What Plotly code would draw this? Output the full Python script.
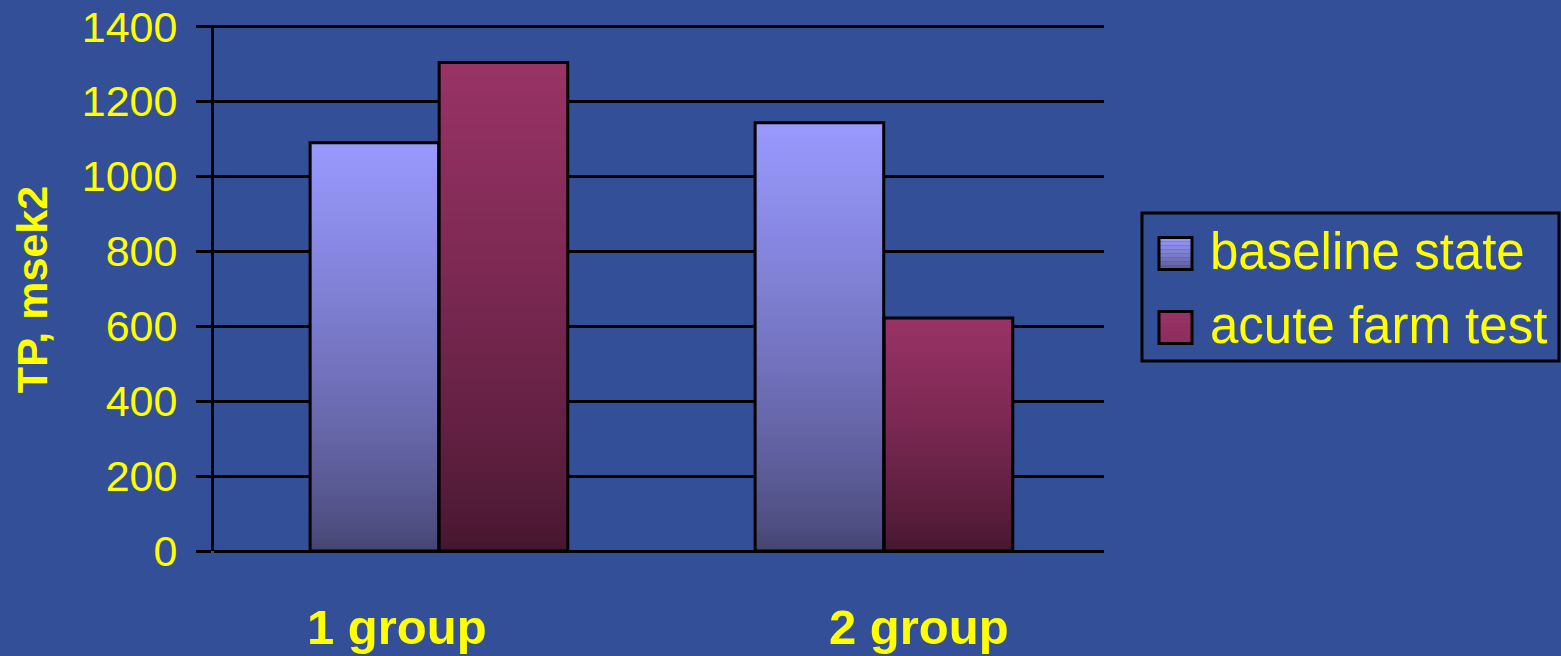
import plotly.graph_objects as go

# ---------------- data ----------------
categories = ["1 group", "2 group"]
baseline_state = [1090, 1143]
acute_farm_test = [1304, 622]
series_names = ["baseline state", "acute farm test"]
y_tick_values = [0, 200, 400, 600, 800, 1000, 1200, 1400]
y_title = "TP, msek2"

# ---------------- style ----------------
BG = "#334F97"
YELLOW = "#FFFF00"
FONT = "Arial, 'Liberation Sans', sans-serif"
base_top, base_bot = (153, 153, 255), (68, 68, 112)
acute_top, acute_bot = (153, 51, 102), (68, 22, 46)
N_SEG = 120
BAR_W = 0.289
OFFSETS = [-0.284, 0.006]
Y_MAX = 1404


def mix(bot, top, t):
    t = t ** 0.75
    return "rgb({},{},{})".format(*[round(b + (a - b) * t) for a, b in zip(top, bot)])


fig = go.Figure()

for vals, top, bot, off, name in [
    (baseline_state, base_top, base_bot, OFFSETS[0], series_names[0]),
    (acute_farm_test, acute_top, acute_bot, OFFSETS[1], series_names[1]),
]:
    # tallest (lightest) first, shorter darker ones on top -> no seams
    for k in range(N_SEG - 1, -1, -1):
        t = (k + 0.5) / N_SEG
        fig.add_trace(go.Bar(
            x=categories,
            y=[v * (k + 1) / N_SEG for v in vals],
            offset=off, width=BAR_W,
            marker=dict(color=mix(bot, top, t), line=dict(width=0)),
            showlegend=False, hoverinfo="skip",
        ))
    # outline
    fig.add_trace(go.Bar(
        x=categories, y=vals, name=name,
        offset=off, width=BAR_W,
        marker=dict(color="rgba(0,0,0,0)", line=dict(color="black", width=3)),
        showlegend=False,
    ))

fig.update_layout(
    width=1561, height=656,
    margin=dict(l=214, r=457, t=25, b=105, autoexpand=False),
    paper_bgcolor=BG, plot_bgcolor=BG,
    barmode="overlay",
    showlegend=False,
    font=dict(family=FONT, color=YELLOW),
)

fig.update_xaxes(
    type="category", range=[-0.5, 1.5],
    showgrid=False, showline=False, zeroline=False,
    showticklabels=False, ticks="", automargin=False,
)
fig.update_yaxes(
    range=[0, Y_MAX], tickvals=y_tick_values, automargin=False,
    showgrid=True, gridcolor="black", gridwidth=3,
    zeroline=True, zerolinecolor="black", zerolinewidth=3,
    showline=True, linecolor="black", linewidth=3,
    ticks="outside", ticklen=15, tickwidth=3, tickcolor="black",
    ticklabelstandoff=10,
    tickfont=dict(family=FONT, size=43, color=YELLOW),
)

annotations = []
# y axis title
annotations.append(dict(
    text=y_title, xref="paper", yref="paper", x=-0.205, y=0.497,
    xanchor="center", yanchor="middle", textangle=-90, showarrow=False,
    font=dict(family=FONT, size=43, color=YELLOW, weight="bold"),
))

# pixel helpers for layout furniture (plot area: x 214..1104, y 25..551)
PLOT_L, PLOT_W, PLOT_B, PLOT_H = 214.0, 890.0, 551.0, 526.0


def px(xp):
    return (xp - PLOT_L) / PLOT_W


def py(yp):
    return (PLOT_B - yp) / PLOT_H


# category labels
for cat, shift in zip(categories, [-40, 37]):
    annotations.append(dict(
        text=cat, xref="x", yref="paper", x=cat, y=py(627), xshift=shift,
        xanchor="center", yanchor="middle", showarrow=False,
        font=dict(family=FONT, size=49, color=YELLOW, weight="bold"),
    ))

# custom legend
shapes = [dict(type="rect", xref="paper", yref="paper",
               x0=px(1142), x1=px(1559), y0=py(361), y1=py(213),
               line=dict(color="black", width=3), fillcolor="rgba(0,0,0,0)")]
for (top, bot), cy, name in [((base_top, (85, 85, 135)), 253.5, series_names[0]),
                              ((acute_top, (140, 45, 92)), 327.5, series_names[1])]:
    n = 8
    y_top, y_bot = cy - 16, cy + 16
    for i in range(n):
        t = 1 - (i + 0.5) / n
        shapes.append(dict(type="rect", xref="paper", yref="paper",
                           x0=px(1159), x1=px(1192),
                           y0=py(y_top + (i + 1) * 32 / n), y1=py(y_top + i * 32 / n),
                           line=dict(width=0), fillcolor=mix(bot, top, t)))
    shapes.append(dict(type="rect", xref="paper", yref="paper",
                       x0=px(1159), x1=px(1192), y0=py(y_bot), y1=py(y_top),
                       line=dict(color="black", width=3), fillcolor="rgba(0,0,0,0)"))
    annotations.append(dict(
        text=name, xref="paper", yref="paper", x=px(1208), y=py(cy - 2),
        xanchor="left", yanchor="middle", showarrow=False,
        font=dict(family=FONT, size=51, color=YELLOW),
    ))

fig.update_layout(annotations=annotations, shapes=shapes)

fig.write_html("out.html")
